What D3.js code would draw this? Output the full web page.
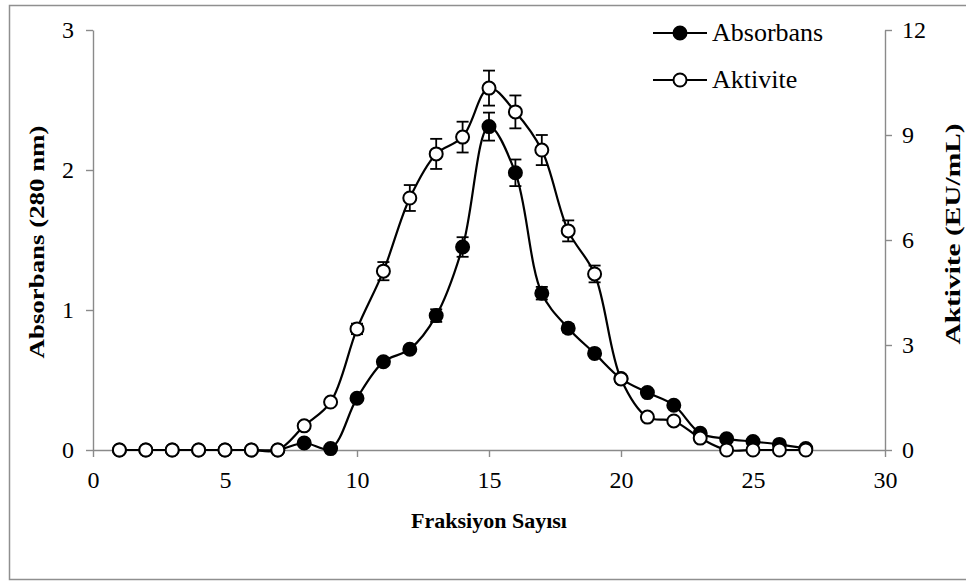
<!DOCTYPE html>
<meta charset="utf-8">
<style>
body { margin: 0; background: #fff; }
svg text { font-family: "Liberation Serif", "Times New Roman", serif; fill: #000; }
.axis path, .axis line { stroke: #8a8a8a; stroke-width: 1.4px; }
.axis text { font-size: 24px; }
.title { font-size: 21px; font-weight: bold; }
.line { fill: none; stroke: #000; stroke-width: 2.2px; }
.err { stroke: #000; stroke-width: 1.8px; }
</style>
<body>
<svg width="966" height="584"></svg>
<script src="https://d3js.org/d3.v7.min.js"></script>
<script>

// fraction numbers
var fractions = d3.range(1, 28);

// Absorbans (280 nm), left axis
var absorbans = [0, 0, 0, 0, 0, 0, 0, 0.05, 0.01, 0.37, 0.63, 0.72, 0.96, 1.45, 2.31, 1.98, 1.12, 0.87, 0.69, 0.51, 0.41, 0.32, 0.12, 0.08, 0.06, 0.04, 0.01];
var absErr    = [0, 0, 0, 0, 0, 0, 0, 0, 0, 0.02, 0.02, 0.02, 0.045, 0.07, 0.1, 0.095, 0.045, 0.03, 0.02, 0.02, 0, 0, 0, 0, 0, 0, 0];

// Aktivite (EU/mL), right axis
var aktivite  = [0, 0, 0, 0, 0, 0, 0, 0.69, 1.37, 3.46, 5.11, 7.2, 8.46, 8.94, 10.34, 9.66, 8.57, 6.26, 5.03, 2.03, 0.94, 0.83, 0.34, 0, 0, 0, 0];
var aktErr    = [0, 0, 0, 0, 0, 0, 0, 0, 0.05, 0.15, 0.26, 0.37, 0.43, 0.44, 0.5, 0.47, 0.43, 0.3, 0.24, 0.05, 0, 0, 0, 0, 0, 0, 0];

var xTicks = [0, 5, 10, 15, 20, 25, 30];
var yLeftTicks = [0, 1, 2, 3];
var yRightTicks = [0, 3, 6, 9, 12];

var svg = d3.select("svg"),
    margin = {top: 30, right: 81, bottom: 134, left: 93},
    width = +svg.attr("width") - margin.left - margin.right,
    height = +svg.attr("height") - margin.top - margin.bottom;

// outer frame
svg.append("path")
    .attr("d", "M967,5.5 H9.5 V579.5 H967")
    .attr("fill", "none")
    .attr("stroke", "#8f8f8f")
    .attr("stroke-width", 1.5);

var g = svg.append("g").attr("transform", "translate(" + margin.left + "," + margin.top + ")");

var x = d3.scaleLinear().domain([0, 30]).range([0, width]);
var yL = d3.scaleLinear().domain([0, 3]).range([height, 0]);
var yR = d3.scaleLinear().domain([0, 12]).range([height, 0]);

g.append("g")
    .attr("class", "axis")
    .attr("transform", "translate(0," + height + ")")
    .call(d3.axisBottom(x).tickValues(xTicks).tickFormat(d3.format("d")).tickSize(7).tickSizeOuter(0).tickPadding(14));

g.append("g")
    .attr("class", "axis")
    .call(d3.axisLeft(yL).tickValues(yLeftTicks).tickFormat(d3.format("d")).tickSize(7).tickSizeOuter(0).tickPadding(12));

g.append("g")
    .attr("class", "axis")
    .attr("transform", "translate(" + width + ",0)")
    .call(d3.axisRight(yR).tickValues(yRightTicks).tickFormat(d3.format("d")).tickSize(7).tickSizeOuter(0).tickPadding(10));

svg.selectAll(".axis").attr("font-family", null).attr("font-size", null);

// titles
svg.append("text")
    .attr("class", "title")
    .style("font-size", "22px")
    .attr("x", margin.left + width / 2)
    .attr("y", 528)
    .attr("text-anchor", "middle")
    .text("Fraksiyon Sayısı");

svg.append("text")
    .attr("class", "title")
    .attr("transform", "translate(44,242) rotate(-90) scale(1.28,1)")
    .attr("text-anchor", "middle")
    .text("Absorbans (280 nm)");

svg.append("text")
    .attr("class", "title")
    .attr("transform", "translate(960,234) rotate(-90) scale(1.4,1)")
    .attr("text-anchor", "middle")
    .text("Aktivite (EU/mL)");

var absData = fractions.map(function(f, i) { return {x: f, y: absorbans[i], e: absErr[i]}; });
var aktData = fractions.map(function(f, i) { return {x: f, y: aktivite[i], e: aktErr[i]}; });

function drawSeries(data, y, fill) {
  var line = d3.line()
      .x(function(d) { return x(d.x); })
      .y(function(d) { return y(d.y); })
      .curve(d3.curveCatmullRom.alpha(0.5));

  var s = g.append("g");

  s.append("path")
      .datum(data)
      .attr("class", "line")
      .attr("d", line);

  var eb = s.selectAll(".eb")
      .data(data.filter(function(d) { return d.e > 0; }))
      .enter().append("g");

  eb.append("line").attr("class", "err")
      .attr("x1", function(d) { return x(d.x); })
      .attr("x2", function(d) { return x(d.x); })
      .attr("y1", function(d) { return y(d.y - d.e); })
      .attr("y2", function(d) { return y(d.y + d.e); });
  [-1, 1].forEach(function(sign) {
    eb.append("line").attr("class", "err")
        .attr("x1", function(d) { return x(d.x) - 6; })
        .attr("x2", function(d) { return x(d.x) + 6; })
        .attr("y1", function(d) { return y(d.y + sign * d.e); })
        .attr("y2", function(d) { return y(d.y + sign * d.e); });
  });

  s.selectAll("circle")
      .data(data)
      .enter().append("circle")
      .attr("cx", function(d) { return x(d.x); })
      .attr("cy", function(d) { return y(d.y); })
      .attr("r", 6.5)
      .attr("fill", fill)
      .attr("stroke", "#000")
      .attr("stroke-width", 2);
}

drawSeries(absData, yL, "#000");
drawSeries(aktData, yR, "#fff");

// legend
var legend = [{name: "Absorbans", fill: "#000", y: 33}, {name: "Aktivite", fill: "#fff", y: 80}];
var lg = svg.selectAll(".legend")
    .data(legend)
    .enter().append("g");

lg.append("line")
    .attr("x1", 653).attr("x2", 707)
    .attr("y1", function(d) { return d.y; })
    .attr("y2", function(d) { return d.y; })
    .attr("stroke", "#000")
    .attr("stroke-width", 2.2);

lg.append("circle")
    .attr("cx", 680)
    .attr("cy", function(d) { return d.y; })
    .attr("r", 6.5)
    .attr("fill", function(d) { return d.fill; })
    .attr("stroke", "#000")
    .attr("stroke-width", 2);

lg.append("text")
    .attr("x", 712)
    .attr("y", function(d) { return d.y + 8; })
    .style("font-size", "26px")
    .text(function(d) { return d.name; });

</script>
</body>
